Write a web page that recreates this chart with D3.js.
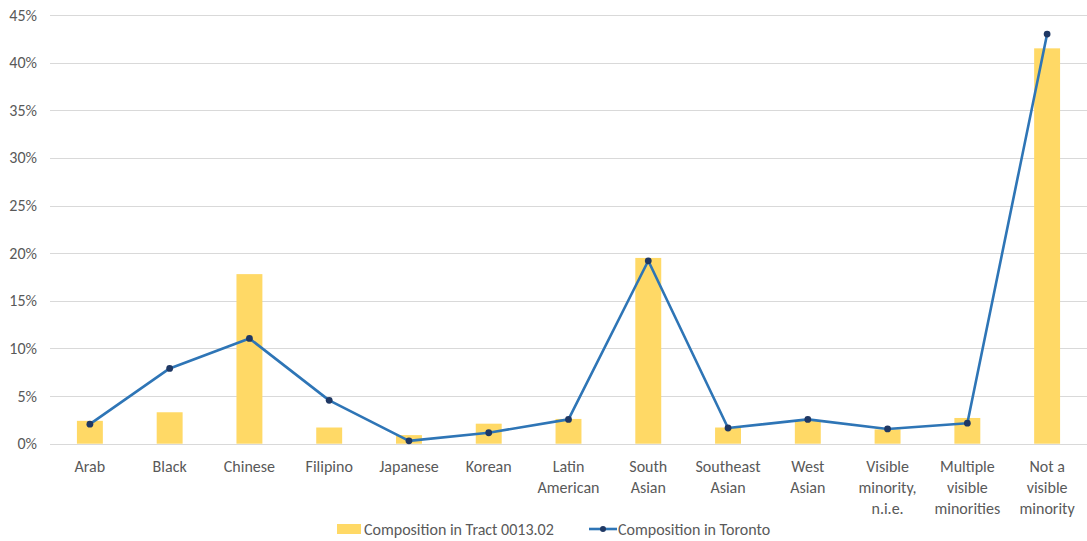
<!DOCTYPE html>
<html>
<head>
<meta charset="utf-8">
<script src="https://cdn.jsdelivr.net/npm/d3@7"></script>
<style>
  html, body { margin: 0; padding: 0; background: #ffffff; }
  svg { display: block; }
  text { font-family: Carlito, Lato, "Liberation Sans", sans-serif; fill: #595959; }
</style>
</head>
<body>
<svg id="chart" width="1087" height="541"></svg>
<script>
// Visible minority groups (label lines split where the axis wraps them)
const categories = [
  ["Arab"], ["Black"], ["Chinese"], ["Filipino"], ["Japanese"], ["Korean"],
  ["Latin", "American"], ["South", "Asian"], ["Southeast", "Asian"], ["West", "Asian"],
  ["Visible", "minority,", "n.i.e."], ["Multiple", "visible", "minorities"],
  ["Not a", "visible", "minority"]
];
// Share of population, percent
const tractValues   = [2.4, 3.3, 17.8, 1.7, 0.9, 2.1, 2.6, 19.5, 1.7, 2.4, 1.5, 2.7, 41.5];
const torontoValues = [2.05, 7.9, 11.05, 4.55, 0.3, 1.15, 2.55, 19.2, 1.65, 2.55, 1.55, 2.15, 43.0];
const yTicks = [0, 5, 10, 15, 20, 25, 30, 35, 40, 45];
const seriesNames = ["Composition in Tract 0013.02", "Composition in Toronto"];

const barColor = "#FFD966";
const lineColor = "#2E75B6";
const markerColor = "#1F3864";
const gridColor = "#D9D9D9";

const svg = d3.select("#chart");
const keys = categories.map(c => c.join(" "));

const x = d3.scaleBand()
  .domain(keys)
  .range([50, 1087])
  .paddingInner(0.675)
  .paddingOuter(0.3375);

const y = d3.scaleLinear().domain([0, 45]).range([443.7, 15]);

// Horizontal gridlines
svg.append("g")
  .selectAll("line")
  .data(yTicks)
  .join("line")
  .attr("x1", 50).attr("x2", 1087)
  .attr("y1", d => Math.round(y(d)) + 0.5)
  .attr("y2", d => Math.round(y(d)) + 0.5)
  .attr("stroke", gridColor)
  .attr("stroke-width", 1);

// Y axis labels
svg.append("g")
  .selectAll("text")
  .data(yTicks)
  .join("text")
  .attr("x", 37)
  .attr("y", d => y(d) + 5.5)
  .attr("text-anchor", "end")
  .style("font-size", "16px")
  .text(d => d + "%");

// Bars for the tract
svg.append("g")
  .selectAll("rect")
  .data(tractValues)
  .join("rect")
  .attr("x", (d, i) => x(keys[i]))
  .attr("width", x.bandwidth())
  .attr("y", d => y(d))
  .attr("height", d => y(0) - y(d))
  .attr("fill", barColor);

// Line for Toronto
const cx = i => x(keys[i]) + x.bandwidth() / 2;
const line = d3.line().x((d, i) => cx(i)).y(d => y(d));

svg.append("path")
  .datum(torontoValues)
  .attr("d", line)
  .attr("fill", "none")
  .attr("stroke", lineColor)
  .attr("stroke-width", 2.6)
  .attr("stroke-linejoin", "round");

svg.append("g")
  .selectAll("circle")
  .data(torontoValues)
  .join("circle")
  .attr("cx", (d, i) => cx(i))
  .attr("cy", d => y(d))
  .attr("r", 3.4)
  .attr("fill", markerColor);

// Category labels
const xLabels = svg.append("g")
  .selectAll("text")
  .data(categories)
  .join("text")
  .attr("text-anchor", "middle")
  .attr("transform", (d, i) => `translate(${cx(i)},472)`)
  .style("font-size", "16px");
xLabels.selectAll("tspan")
  .data(d => d)
  .join("tspan")
  .attr("x", 0)
  .attr("y", (d, j) => j * 20.8)
  .text(d => d);

// Legend
const legend = svg.append("g");
legend.append("rect")
  .attr("x", 337).attr("y", 524).attr("width", 24).attr("height", 10)
  .attr("fill", barColor);
legend.append("text")
  .attr("x", 364).attr("y", 534.5)
  .style("font-size", "16px")
  .text(seriesNames[0]);
legend.append("line")
  .attr("x1", 589).attr("x2", 617).attr("y1", 529).attr("y2", 529)
  .attr("stroke", lineColor).attr("stroke-width", 2.6);
legend.append("circle")
  .attr("cx", 603).attr("cy", 529).attr("r", 3)
  .attr("fill", markerColor);
legend.append("text")
  .attr("x", 618).attr("y", 534.5)
  .style("font-size", "16px")
  .text(seriesNames[1]);
</script>
</body>
</html>
